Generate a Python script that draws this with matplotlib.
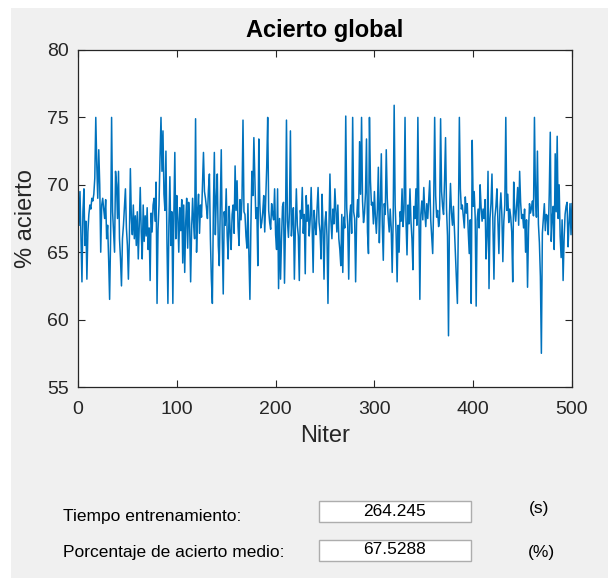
import matplotlib
matplotlib.use("Agg")
import matplotlib.pyplot as plt
from matplotlib.patches import Rectangle
import numpy as np

plt.rcParams['font.family'] = ['Liberation Sans', 'DejaVu Sans']

# acierto por iteracion
acierto = [
    67.0, 69.5, 66.0, 62.8, 68.0, 69.7, 65.5, 67.3, 63.0, 66.5,
    67.8, 68.5, 68.2, 69.0, 68.8, 69.3, 70.5, 75.0, 71.5, 69.0,
    72.6, 70.0, 65.0, 68.5, 69.0, 68.2, 67.5, 68.9, 66.0, 67.0,
    64.5, 61.5, 66.0, 75.0, 68.0, 66.5, 65.0, 71.0, 70.0, 67.5,
    71.0, 66.0, 64.5, 62.5, 66.0, 67.0, 68.3, 69.7, 66.8, 65.5,
    63.0, 66.0, 71.2, 67.5, 66.3, 68.5, 66.0, 67.7, 65.5, 68.0,
    64.5, 67.0, 69.8, 66.5, 64.5, 68.5, 65.8, 67.7, 66.2, 68.3,
    65.2, 66.8, 62.9, 67.9, 66.5, 68.5, 69.0, 67.3, 70.2, 61.2,
    66.7, 68.5, 72.0, 75.0, 71.0, 74.0, 69.3, 68.1, 72.5, 66.0,
    61.2, 67.0, 70.6, 65.5, 68.0, 61.2, 67.7, 72.4, 66.0, 69.2,
    67.5, 65.0, 68.3, 66.6, 68.9, 64.2, 68.5, 63.5, 67.2, 69.0,
    65.3, 68.7, 67.1, 62.8, 66.7, 69.0, 67.2, 66.0, 74.9, 65.0,
    68.0, 69.3, 66.4, 68.5, 67.6, 70.0, 72.4, 69.5, 69.0, 68.3,
    67.5, 69.6, 70.8, 66.0, 63.0, 61.2, 68.0, 72.4, 66.3, 69.0,
    70.8, 65.5, 64.0, 68.2, 72.6, 66.0, 61.9, 68.0, 67.0, 69.7,
    66.2, 64.5, 68.4, 66.6, 65.2, 67.8, 68.5, 66.4, 71.4, 68.1,
    70.3, 66.9, 65.5, 68.9, 67.4, 69.0, 74.8, 68.0, 67.8, 66.2,
    65.3, 68.6, 64.8, 61.5, 67.0, 71.0, 69.2, 73.5, 70.4, 67.5,
    68.3, 64.0, 73.4, 68.7, 66.8, 67.2, 68.0, 69.2, 66.5, 68.9,
    71.3, 75.0, 68.1, 67.2, 66.7, 68.6, 67.8, 67.4, 69.7, 66.3,
    65.2, 69.7, 62.3, 67.5, 63.0, 66.0, 68.4, 68.7, 62.7, 67.0,
    74.8, 67.3, 66.1, 68.0, 74.0, 66.2, 67.6, 68.3, 63.0, 66.8,
    69.7, 67.0, 66.2, 62.9, 68.1, 67.5, 69.8, 66.4, 67.8, 63.4,
    69.2, 67.3, 68.5, 66.2, 67.4, 69.8, 66.9, 63.5, 68.1, 67.0,
    66.3, 68.3, 69.8, 67.2, 66.5, 64.5, 69.3, 66.8, 63.0, 67.2,
    68.0, 66.2, 61.2, 66.8, 70.8, 67.3, 66.0, 68.2, 67.1, 69.7,
    68.1, 66.5, 68.5, 66.0, 65.2, 64.0, 67.8, 63.5, 67.6, 66.8,
    75.1, 68.3, 67.0, 63.0, 67.7, 68.5, 66.4, 75.0, 68.0, 67.5,
    62.8, 67.4, 68.9, 67.6, 73.2, 69.3, 75.0, 68.8, 67.2, 67.9,
    69.4, 73.4, 66.5, 64.9, 75.0, 70.3, 68.5, 68.7, 67.1, 69.5,
    67.6, 66.4, 68.2, 71.3, 65.7, 68.5, 72.3, 67.0, 64.4, 68.6,
    67.8, 72.6, 69.0, 67.5, 66.5, 68.2, 66.8, 63.5, 67.4, 75.9,
    68.5, 66.3, 62.8, 67.0, 65.0, 68.0, 67.3, 69.7, 66.9, 68.2,
    75.0, 67.3, 64.8, 68.5, 67.1, 69.7, 67.3, 66.0, 63.7, 68.4,
    67.5, 69.7, 67.0, 75.0, 68.5, 61.5, 67.8, 68.8, 67.4, 69.8,
    68.0, 66.9, 68.6, 67.5, 68.9, 70.3, 67.4, 66.2, 64.9, 68.6,
    75.0, 69.2, 67.6, 68.1, 66.9, 67.5, 74.9, 69.5, 68.4, 67.8,
    70.3, 73.5, 68.2, 66.2, 58.8, 67.8, 70.1, 67.9, 67.0, 68.4,
    66.7, 64.8, 62.9, 61.2, 67.2, 75.0, 69.7, 68.2, 68.5, 67.6,
    66.8, 69.1, 67.9, 68.6, 66.5, 64.9, 67.4, 61.2, 73.3, 68.4,
    69.5, 67.6, 61.0, 67.4, 68.2, 66.8, 70.0, 68.3, 67.3, 68.2,
    67.5, 68.9, 64.5, 66.2, 71.0, 62.3, 67.5, 68.6, 70.8, 66.7,
    63.0, 67.6, 68.4, 69.7, 67.2, 64.9, 68.1, 69.4, 67.8, 64.3,
    67.3, 68.5, 75.0, 68.1, 69.3, 67.2, 68.2, 67.6, 66.5, 62.8,
    70.2, 68.1, 67.3, 68.6, 69.8, 67.0, 71.0, 68.7, 67.5, 67.8,
    66.8, 68.2, 65.0, 67.4, 62.4, 66.7, 68.6, 67.9, 68.3, 68.8,
    67.7, 75.0, 69.2, 67.6, 72.5, 67.1, 65.7, 63.2, 57.5, 66.4,
    67.5, 68.6, 66.6, 67.8, 67.7, 66.3, 69.4, 73.9, 65.8, 67.5,
    68.4, 65.2, 72.3, 68.0, 73.6, 67.5, 70.0, 66.2, 64.6, 67.4,
    62.9, 66.0, 67.8, 68.4, 68.7, 65.4, 67.1, 68.6, 66.3, 68.6,
]
niter = np.arange(1, len(acierto) + 1)

x_ticks = [0, 100, 200, 300, 400, 500]
y_ticks = [55, 60, 65, 70, 75, 80]

tiempo = "264.245"
acierto_medio = "67.5288"

W, H = 614, 578
fig = plt.figure(figsize=(W / 100, H / 100), dpi=100, facecolor='white')

# panel gris estilo GUI
fig.patches.append(Rectangle((11 / W, 0), 597 / W, 1 - 8 / H, transform=fig.transFigure,
                             facecolor='#f0f0f0', edgecolor='none', zorder=-10))

ax = fig.add_axes([78 / W, 1 - 387 / H, 494 / W, 337 / H], zorder=2)
ax.set_facecolor('white')
ax.plot(niter, acierto, color='#0072BD', linewidth=1.1)
ax.set_xlim(0, 500)
ax.set_ylim(55, 80)
ax.set_xticks(x_ticks)
ax.set_yticks(y_ticks)
ax.tick_params(direction='in', top=True, right=True, length=5, width=0.8,
               colors='#262626', labelsize=14)
ax.tick_params(axis='x', pad=10)
ax.tick_params(axis='y', pad=6.5)
for s in ax.spines.values():
    s.set_color('#262626')
    s.set_linewidth(0.9)
ax.set_title('Acierto global', fontsize=17, fontweight='bold', color='black', pad=9)
ax.set_xlabel('Niter', fontsize=17, color='#262626', labelpad=5)
ax.set_ylabel('% acierto', fontsize=17, color='#262626', labelpad=7)

# campos inferiores
fig.text(63 / W, 1 - 517 / H, 'Tiempo entrenamiento:', fontsize=12.5, va='center', ha='left')
fig.text(63 / W, 1 - 553 / H, 'Porcentaje de acierto medio:', fontsize=12.5, va='center', ha='left')
for y0, txt in [(501, tiempo), (540, acierto_medio)]:
    fig.patches.append(Rectangle((319 / W, 1 - (y0 + 21) / H), 152 / W, 21 / H,
                                 transform=fig.transFigure, facecolor='white',
                                 edgecolor='#adadad', linewidth=1, zorder=1))
    fig.text(395 / W, 1 - (y0 + 10) / H, txt, fontsize=12.5, ha='center', va='center')
fig.text(539 / W, 1 - 508 / H, '(s)', fontsize=12.5, ha='center', va='center')
fig.text(541 / W, 1 - 552 / H, '(%)', fontsize=12.5, ha='center', va='center')

fig.savefig('out.png', dpi=100, facecolor='white')
